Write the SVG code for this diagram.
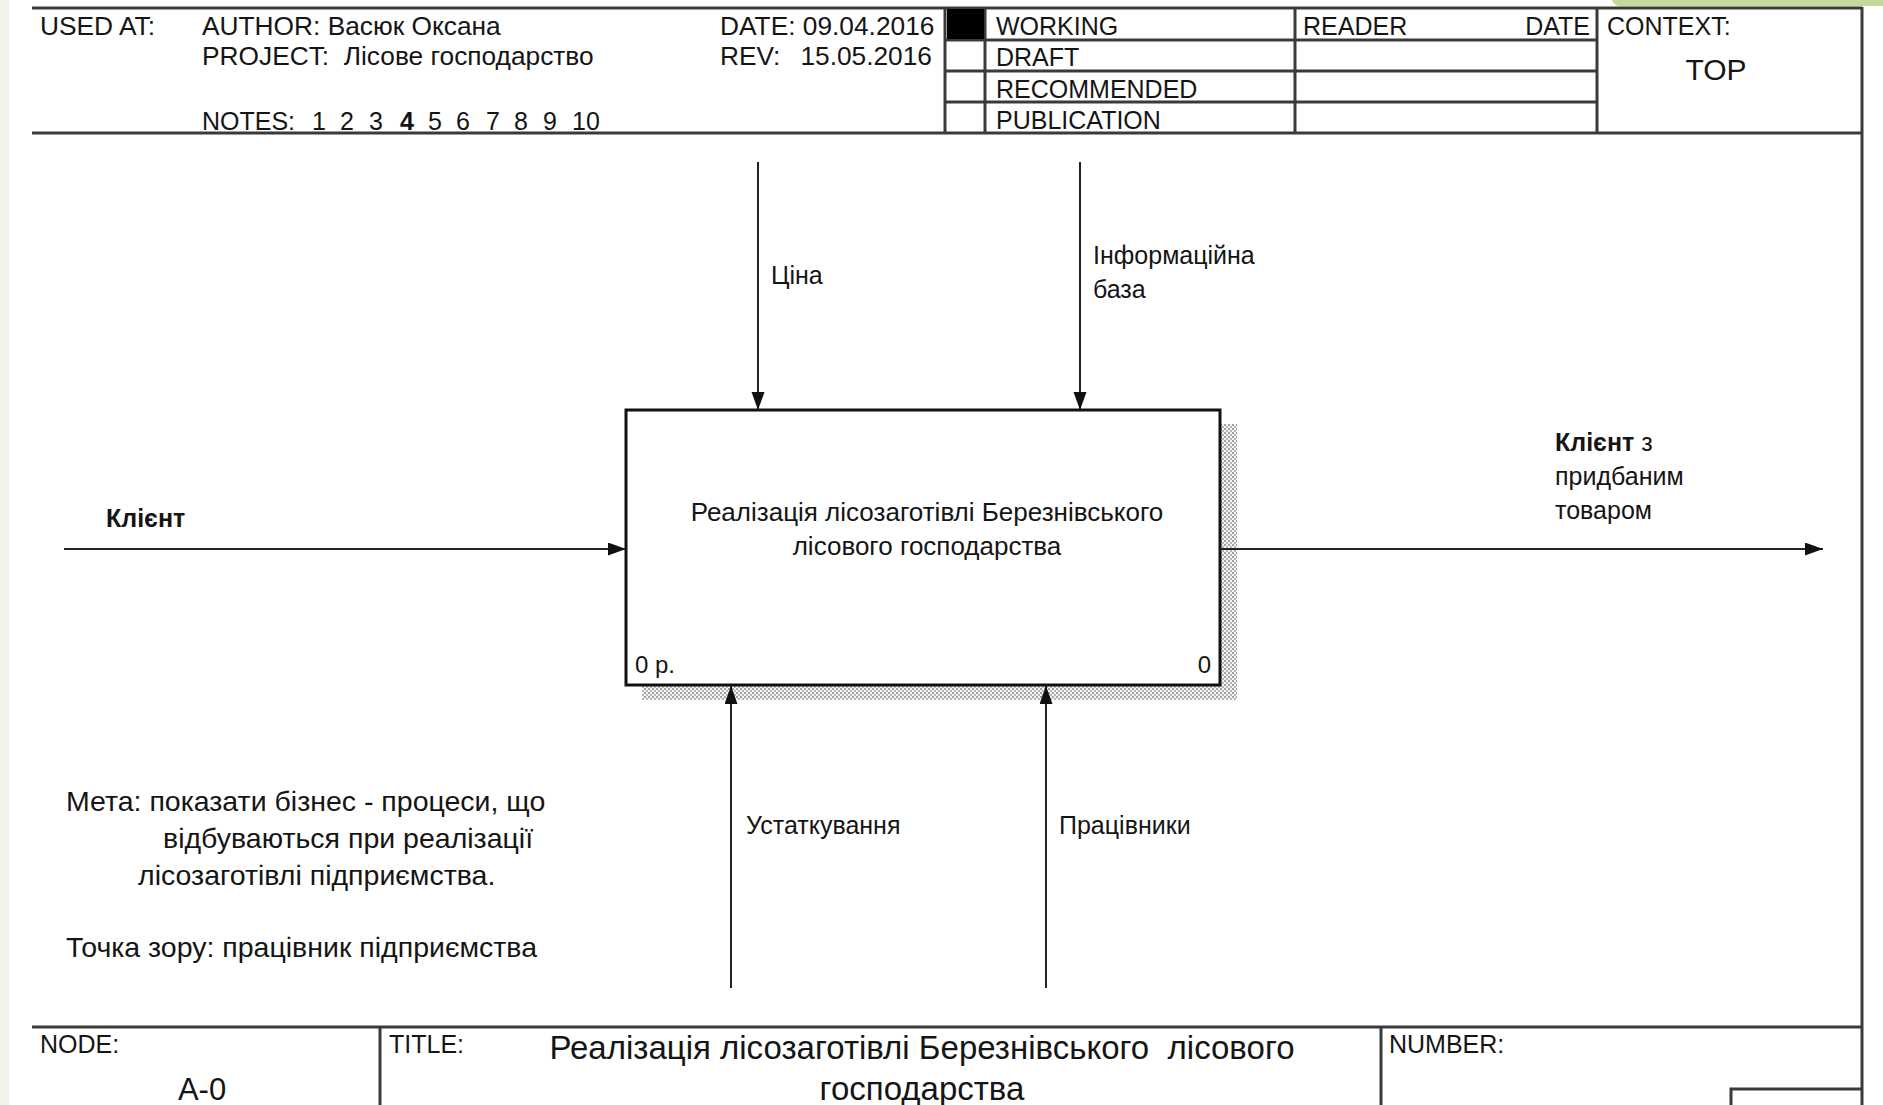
<svg xmlns="http://www.w3.org/2000/svg" width="1883" height="1105" viewBox="0 0 1883 1105">
<style>
  .t { font-family: "Liberation Sans", Arial, sans-serif; fill: #151515; }
  .h { font-size: 25px; }
  .hl { font-size: 26.3px; }
  .lbl { font-size: 25px; }
  .frame { stroke: #3a3a3a; stroke-width: 3; fill: none; }
  .arrow { stroke: #222; stroke-width: 2; fill: none; marker-end: url(#ah); }
</style>
<defs>
  <marker id="ah" markerUnits="userSpaceOnUse" markerWidth="20" markerHeight="14" refX="18" refY="6.5" orient="auto">
    <path d="M0,0 L18,6.5 L0,13 z" fill="#111"/>
  </marker>
  <pattern id="dots" width="4" height="4" patternUnits="userSpaceOnUse">
    <rect width="4" height="4" fill="#f4f4f4"/>
    <circle cx="1" cy="1" r="0.9" fill="#7a7a7a"/>
    <circle cx="3" cy="3" r="0.9" fill="#9a9a9a"/>
  </pattern>
</defs>

<!-- page background -->
<rect x="0" y="0" width="1883" height="1105" fill="#ffffff"/>
<rect x="0" y="0" width="9" height="1105" fill="#f2f4ec"/>
<path d="M1612,0 L1883,0 L1883,6 L1620,6 Q1614,6 1612,0 z" fill="#c6d99d"/>

<!-- frame -->
<g id="frame">
  <line class="frame" x1="32" y1="8" x2="1862" y2="8"/>
  <line class="frame" x1="32" y1="133" x2="1862" y2="133"/>
  <line class="frame" x1="1862" y1="7" x2="1862" y2="1105"/>
  <line class="frame" x1="32" y1="1027" x2="1862" y2="1027"/>
</g>

<!-- header -->
<g id="header">
  <line class="frame" x1="945" y1="8" x2="945" y2="133"/>
  <line class="frame" x1="985" y1="8" x2="985" y2="133"/>
  <line class="frame" x1="1295" y1="8" x2="1295" y2="133"/>
  <line class="frame" x1="1597" y1="8" x2="1597" y2="133"/>
  <line class="frame" x1="945" y1="40" x2="1597" y2="40"/>
  <line class="frame" x1="945" y1="71" x2="1597" y2="71"/>
  <line class="frame" x1="945" y1="102" x2="1597" y2="102"/>
  <rect x="947" y="9" width="37" height="30" fill="#000"/>
  <text class="t hl" x="40" y="35">USED AT:</text>
  <text class="t hl" x="202" y="35">AUTHOR:  Васюк Оксана</text>
  <text class="t hl" x="202" y="65" xml:space="preserve">PROJECT:  Лісове господарство</text>
  <text class="t h" x="202" y="130">NOTES: <tspan x="312">1</tspan><tspan x="340">2</tspan><tspan x="369">3</tspan><tspan x="400" font-weight="bold">4</tspan><tspan x="428">5</tspan><tspan x="456">6</tspan><tspan x="486">7</tspan><tspan x="514">8</tspan><tspan x="543">9</tspan><tspan x="572">10</tspan></text>
  <text class="t hl" x="720" y="35">DATE: 09.04.2016</text>
  <text class="t hl" x="720" y="65">REV:</text>
  <text class="t hl" x="932" y="65" text-anchor="end">15.05.2016</text>
  <text class="t h" x="996" y="35">WORKING</text>
  <text class="t h" x="996" y="66">DRAFT</text>
  <text class="t h" x="996" y="98">RECOMMENDED</text>
  <text class="t h" x="996" y="129">PUBLICATION</text>
  <text class="t h" x="1303" y="35">READER</text>
  <text class="t h" x="1590" y="35" text-anchor="end">DATE</text>
  <text class="t h" x="1607" y="35">CONTEXT:</text>
  <text class="t" x="1716" y="80" font-size="30" text-anchor="middle">TOP</text>
</g>

<!-- activity box -->
<g id="node-0">
  <rect x="1221" y="424" width="16" height="276" fill="url(#dots)"/>
  <rect x="642" y="686" width="595" height="14" fill="url(#dots)"/>
  <rect x="626" y="410" width="594" height="275" fill="#fff" stroke="#111" stroke-width="3"/>
  <text class="t" font-size="26" x="927" y="521" text-anchor="middle">Реалізація лісозаготівлі Березнівського</text>
  <text class="t" font-size="26" x="927" y="555" text-anchor="middle">лісового господарства</text>
  <text class="t" font-size="24" x="635" y="673">0 р.</text>
  <text class="t" font-size="24" x="1211" y="673" text-anchor="end">0</text>
</g>

<!-- connectors -->
<g id="connectors">
  <line class="arrow" x1="64" y1="549" x2="626" y2="549"/>
  <line class="arrow" x1="1220" y1="549" x2="1823" y2="549"/>
  <line class="arrow" x1="758" y1="162" x2="758" y2="410"/>
  <line class="arrow" x1="1080" y1="162" x2="1080" y2="410"/>
  <line class="arrow" x1="731" y1="988" x2="731" y2="686"/>
  <line class="arrow" x1="1046" y1="988" x2="1046" y2="686"/>
</g>

<!-- connector labels -->
<g id="labels">
  <text class="t lbl" x="106" y="527" font-weight="bold">Клієнт</text>
  <text class="t lbl" x="1555" y="451"><tspan font-weight="bold">Клієнт</tspan> з</text>
  <text class="t lbl" x="1555" y="485">придбаним</text>
  <text class="t lbl" x="1555" y="519">товаром</text>
  <text class="t lbl" x="771" y="284">Ціна</text>
  <text class="t lbl" x="1093" y="264">Інформаційна</text>
  <text class="t lbl" x="1093" y="298">база</text>
  <text class="t lbl" font-size="26" x="746" y="834">Устаткування</text>
  <text class="t lbl" font-size="26" x="1059" y="834">Працівники</text>
</g>

<!-- note text -->
<g id="note">
  <text class="t" font-size="28.5" x="66" y="811">Мета: показати бізнес - процеси, що</text>
  <text class="t" font-size="28.5" x="163" y="848">відбуваються при реалізації</text>
  <text class="t" font-size="28.5" x="138" y="885">лісозаготівлі підприємства.</text>
  <text class="t" font-size="28.5" x="66" y="957">Точка зору: працівник підприємства</text>
</g>

<!-- footer -->
<g id="footer">
  <line class="frame" x1="380" y1="1027" x2="380" y2="1105"/>
  <line class="frame" x1="1381" y1="1027" x2="1381" y2="1105"/>
  <path class="frame" d="M1731,1105 L1731,1089 L1862,1089"/>
  <text class="t h" x="40" y="1053">NODE:</text>
  <text class="t" font-size="31" x="202" y="1100" text-anchor="middle">A-0</text>
  <text class="t h" x="389" y="1053">TITLE:</text>
  <text class="t" font-size="33" x="922" y="1059" text-anchor="middle" xml:space="preserve">Реалізація лісозаготівлі Березнівського  лісового</text>
  <text class="t" font-size="33" x="922" y="1100" text-anchor="middle">господарства</text>
  <text class="t h" x="1389" y="1053">NUMBER:</text>
</g>
</svg>
